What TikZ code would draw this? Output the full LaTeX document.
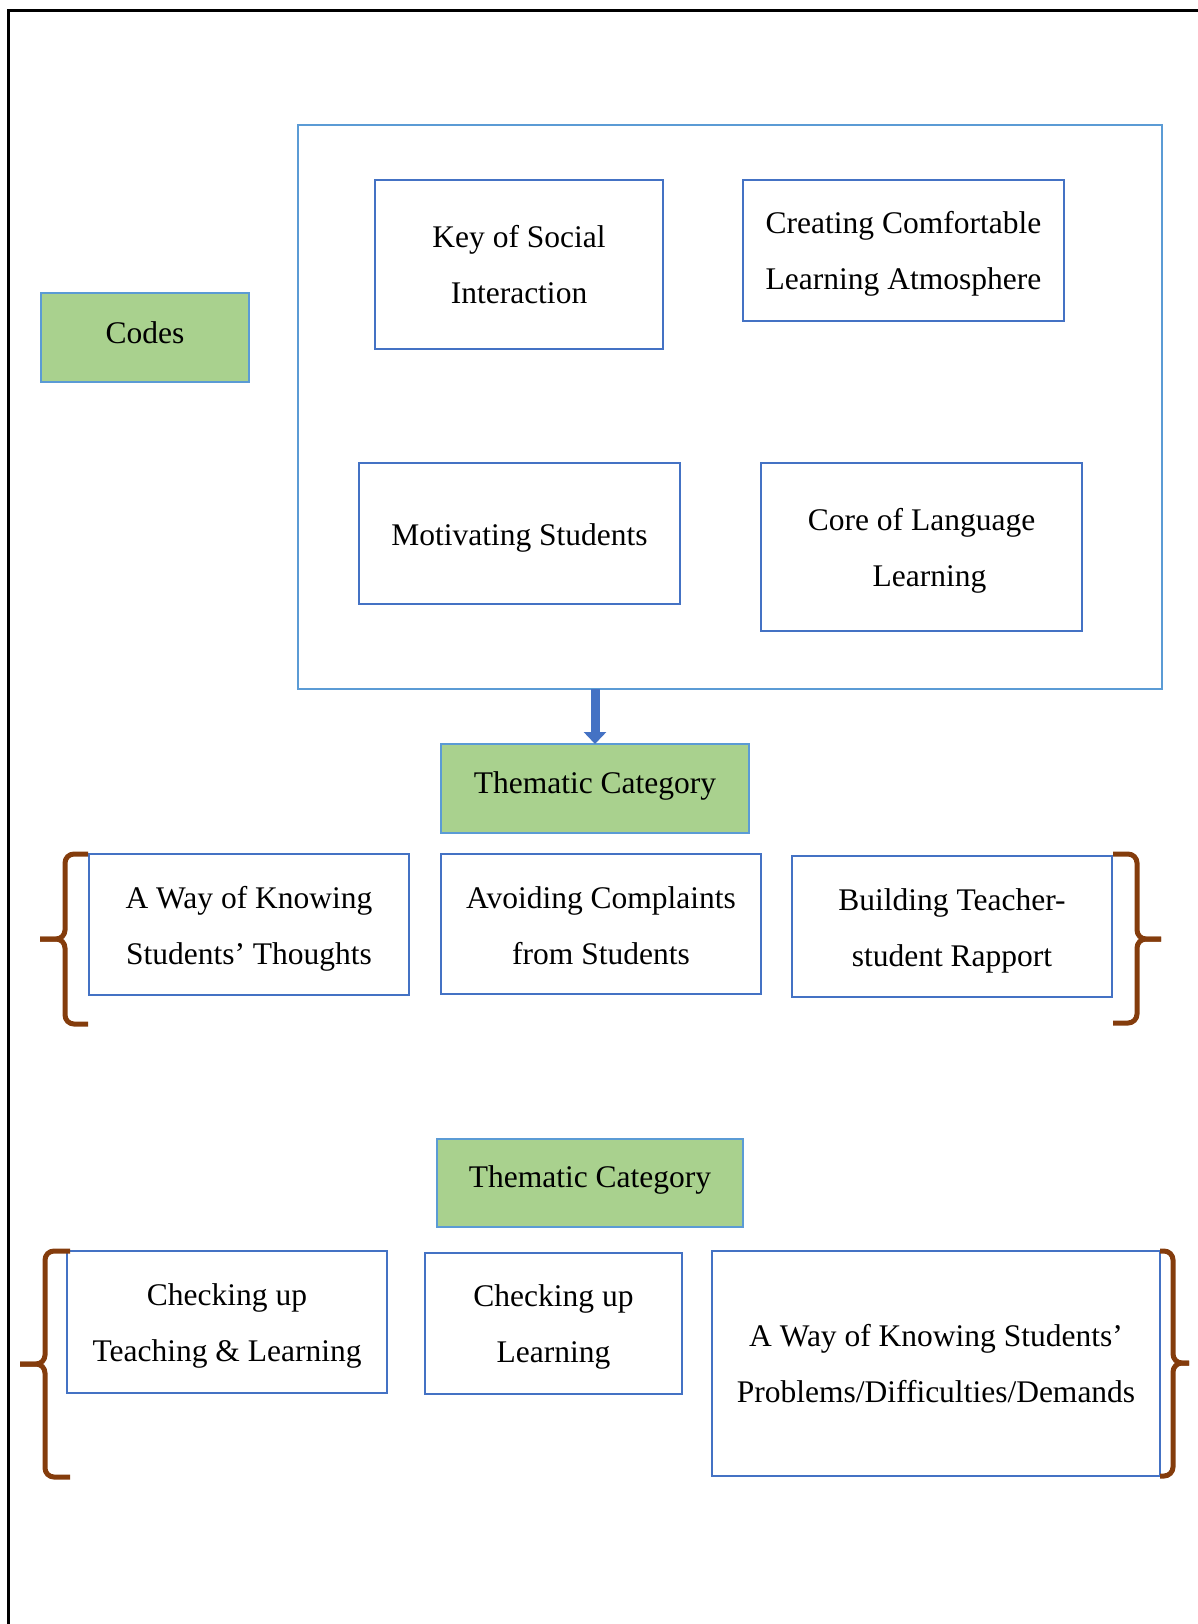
\documentclass[tikz,border=0pt]{standalone}
\usepackage{fontspec}
\setmainfont{Liberation Serif}
\usetikzlibrary{arrows.meta}
\definecolor{boxblue}{HTML}{4472C4}
\definecolor{lightblue}{HTML}{5B9BD5}
\definecolor{greenfill}{HTML}{A9D18E}
\definecolor{bracebrown}{HTML}{843C0C}
\definecolor{arrowblue}{HTML}{4472C4}
\begin{document}
\begin{tikzpicture}[x=1pt,y=-1pt,
  txt/.style={font=\fontsize{31.5}{56}\selectfont, align=center, inner sep=0pt, outer sep=0pt, text=black},
  codebox/.style={txt, draw=boxblue, line width=1.7pt, fill=white},
  greenbox/.style={txt, draw=lightblue, line width=1.7pt, fill=greenfill},
  framebox/.style={draw=lightblue, line width=1.7pt, inner sep=0pt, outer sep=0pt},
  brace/.style={draw=bracebrown, line width=5pt, rounded corners=9pt},
  flowarrow/.style={draw=arrowblue, line width=9pt, -{Triangle[width=22pt,length=12pt]}}]
\useasboundingbox (0,0) rectangle (1198,1624);
% page frame
\draw[line width=3pt, black] (1198,11) -- (8,11) -- (8,1624);
% codes
\node[greenbox, minimum width=208pt, minimum height=89pt, text depth=10pt] (codes) at (145,337.5) {Codes};
\node[framebox, minimum width=864pt, minimum height=564pt] (big) at (730,407) {};
\node[codebox, minimum width=288pt, minimum height=169pt] (key) at (519,264.5) {Key of Social\\Interaction};
\node[codebox, minimum width=321pt, minimum height=141pt, text height=84pt] (creating) at (903.5,250.5) {Creating Comfortable\\Learning Atmosphere};
\node[codebox, minimum width=321pt, minimum height=141pt, text height=30pt] (motiv) at (519.5,533.5) {Motivating Students};
\node[codebox, minimum width=321pt, minimum height=168pt, text height=85pt] (core) at (921.5,547) {Core of Language\\\hspace*{16pt}Learning};
% first category
\node[greenbox, minimum width=308pt, minimum height=89pt, text depth=11pt] (tc1) at (595,788.5) {Thematic Category};
\draw[flowarrow] (tc1.north |- big.south) -- (tc1.north);
\node[codebox, minimum width=320pt, minimum height=141pt, text height=86pt] (way1) at (249,924.5) {A Way of Knowing\\Students’ Thoughts};
\node[codebox, minimum width=320pt, minimum height=140pt, text height=81.5pt] (avoid) at (601,924) {Avoiding Complaints\\from Students};
\node[codebox, minimum width=320pt, minimum height=141pt, text height=86pt] (build) at (952,926.5) {Building Teacher-\\student Rapport};
% braces row 1
\draw[brace] (88,854) -- (65,854) -- (65,939) -- (40,939);
\draw[brace] (88,1024) -- (65,1024) -- (65,939) -- (40,939);
\draw[brace] (1113,854) -- (1137,854) -- (1137,939) -- (1161,939);
\draw[brace] (1113,1023) -- (1137,1023) -- (1137,939) -- (1161,939);
% second category
\node[greenbox, minimum width=306pt, minimum height=88pt, text depth=12.5pt] (tc2) at (590,1183) {Thematic Category};
\node[codebox, minimum width=320pt, minimum height=142pt, text height=86pt] (check1) at (227,1322) {Checking up\\Teaching \& Learning};
\node[codebox, minimum width=257pt, minimum height=141pt, text height=84pt] (check2) at (553.5,1323.5) {Checking up\\Learning};
\node[codebox, minimum width=448pt, minimum height=225pt] (wayprob) at (936,1363.5) {A Way of Knowing Students’\\Problems/Difficulties/Demands};
% braces row 2
\draw[brace] (70,1251) -- (45,1251) -- (45,1364) -- (20,1364);
\draw[brace] (70,1477) -- (45,1477) -- (45,1364) -- (20,1364);
\draw[brace] (1160,1251) -- (1173,1251) -- (1173,1363) -- (1189,1363);
\draw[brace] (1160,1476) -- (1173,1476) -- (1173,1363) -- (1189,1363);
\end{tikzpicture}
\end{document}
